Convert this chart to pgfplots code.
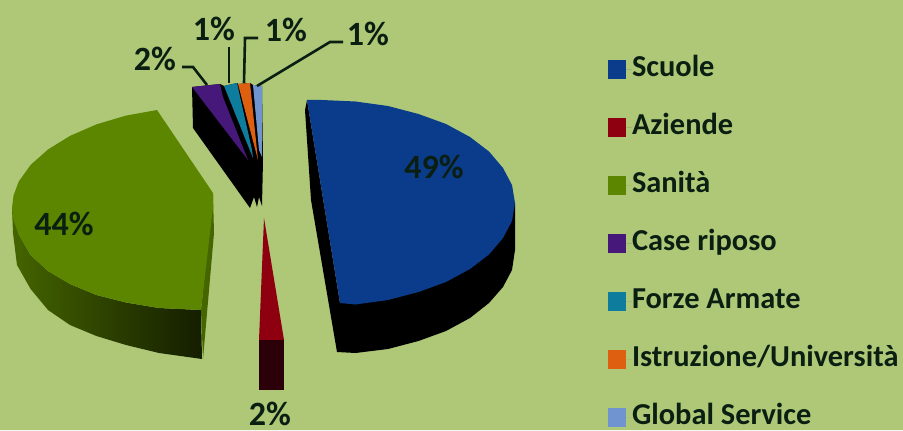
\documentclass[border=0pt]{standalone}
\usepackage{fontspec}
\setmainfont{Carlito}
\usepackage{pgfplots}
\pgfplotsset{compat=1.18}
\definecolor{bgc}{HTML}{AEC878}
\definecolor{ink}{HTML}{0A1F12}
\definecolor{cblue}{HTML}{0B3C8C}
\definecolor{cred}{HTML}{8E0010}
\definecolor{cgreen}{HTML}{5C8600}
\definecolor{cpurple}{HTML}{45187A}
\definecolor{cteal}{HTML}{0E7C9C}
\definecolor{corange}{HTML}{DE5F10}
\definecolor{clight}{HTML}{7094D0}
\begin{document}
\begin{tikzpicture}
\begin{axis}[
  scale only axis, width=903pt, height=430pt,
  xmin=0, xmax=903, ymin=0, ymax=430, y dir=reverse,
  hide axis,
  legend cell align=left,
  legend image code/.code={\fill[#1] (0pt,-9.5pt) rectangle (18pt,9.5pt);\path (0pt,0pt) -- (24pt,0pt);},
  legend style={at={(axis cs:608,56)}, anchor=north west, draw=none, fill=none,
    inner sep=0pt, outer sep=0pt, row sep=32.1pt, column sep=0pt,
    font=\fontsize{30.4}{32}\selectfont\bfseries\color{ink},
    nodes={text height=20pt, text depth=6pt, inner sep=0pt, outer sep=0pt}},
]
% background
\addplot[draw=none, fill=bgc, forget plot] coordinates {(0,0)(903,0)(903,430)(0,430)} \closedcycle;

% ---- Scuole side
\addplot[draw=none, fill=black, forget plot] coordinates {
 (307,100)(305,110)(311,200)(337,352)(355.5,353)(388,349)(418.5,341)(446,331)(470,318)(489,303)(503,287)(512,270)(515,250)(515,203)(340,303)} -- cycle;
% ---- Scuole top
\addplot[draw=none, fill=cblue] coordinates {
 (307,100)(322,100)(355.5,101.5)(388,106)(418.5,114)(446,124)(470,137)(489,151.5)(503,168)(512,185)(515,203)(512,221)(503,238)(489,254.5)(470,269)(446,282)(418.5,292)(388,300)(355.5,304.5)(340,303)} -- cycle;
\addlegendentry{Scuole}

% ---- Aziende
\addplot[draw=none, fill=cred] coordinates {(264,218)(284,340)(259,340)} -- cycle;
\addlegendentry{Aziende}
\addplot[draw=none, fill={rgb,255:red,43;green,0;blue,8}, forget plot] coordinates {(259,340)(284,340)(284,390)(259,390)} -- cycle;

% ---- Sanita side
\addplot[draw=none, left color=cgreen!75!black, middle color=cgreen!55!black, right color=cgreen!22!black, forget plot] coordinates {
 (12,208)(18.7,234.4)(30.6,255)(48,271)(70,284)(96.4,295)(126,302.5)(159,308)(201,310)(202,359)(159,353)(126,345)(96.4,336)(70,325)(48,310)(30.6,289)(17,265)(13,233)} -- cycle;
\addplot[draw=none, fill=cgreen!75!black, forget plot] coordinates {(213,195)(214,233)(203,359)(201,310)} -- cycle;
% ---- Sanita top
\addplot[draw=none, fill=cgreen] coordinates {
 (157,110)(126,115.6)(96.4,124.4)(70,135.9)(48,149.5)(30.6,164.9)(18.7,181.6)(13.5,195.6)(12,208)(13.5,220.4)(18.7,234.4)(30.6,255)(48,271)(70,284)(96.4,295)(126,302.5)(159,308)(201,310)(213,207)(213,193)} -- cycle;
\addlegendentry{Sanità}

% ---- small slices, sides
\addplot[draw=none, fill=black, forget plot] coordinates {(192,87)(193,128)(250,208)(254,197)(257,207)(259,197)(262,206)(263,160)(262,86)(253,85)(250,83)(238,84)(237,83)(224,86)(220,84)} -- cycle;
% ---- small slices, tops
\addplot[draw=none, fill=cpurple] coordinates {(192,87)(220,84)(223,97)(248,160)} -- cycle;
\addlegendentry{Case riposo}
\addplot[draw=none, fill=cteal] coordinates {(224,86)(237,83)(252,150)(253,158)} -- cycle;
\addlegendentry{Forze Armate}
\addplot[draw=none, fill=corange] coordinates {(238,84)(250,83)(258,160)} -- cycle;
\addlegendentry{Istruzione/Università}
\addplot[draw=none, fill=clight] coordinates {(253,85)(262,86)(262,157)(259,150)} -- cycle;
\addlegendentry{Global Service}

% ---- leader lines
\addplot[ink, line width=2.6pt, forget plot] coordinates {(182,67)(193,67)(207,85)};
\addplot[ink, line width=2.6pt, forget plot] coordinates {(229,47)(229,83)};
\addplot[ink, line width=2.6pt, forget plot] coordinates {(258,38)(245,38)(244,83)};
\addplot[ink, line width=2.6pt, forget plot] coordinates {(343,42)(330,42)(257,86)};

% ---- labels
\tikzset{lab/.style={font=\fontsize{34}{36}\selectfont\bfseries, text=ink, inner sep=0pt}}
\node[lab] at (axis cs:155,59) {2\%};
\node[lab] at (axis cs:214,29) {1\%};
\node[lab] at (axis cs:286,30) {1\%};
\node[lab] at (axis cs:368,34) {1\%};
\node[lab] at (axis cs:434,167) {49\%};
\node[lab] at (axis cs:64,224) {44\%};
\node[lab] at (axis cs:270,414) {2\%};
\end{axis}
\end{tikzpicture}
\end{document}
